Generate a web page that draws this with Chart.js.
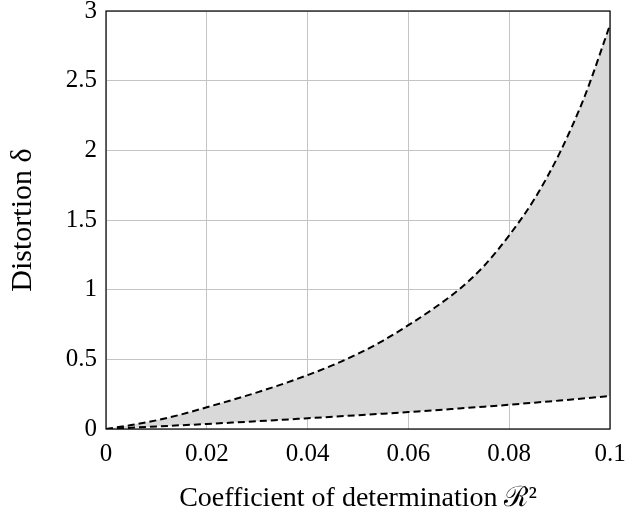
<!DOCTYPE html>
<html lang="en">
<head>
    <meta charset="UTF-8">
    <title>Distortion vs R2</title>
    <script src="https://cdn.jsdelivr.net/npm/chart.js"></script>
    <style>
        body { margin: 0; background: #fff; }
        #wrap { width: 629px; height: 517px; }
    </style>
</head>
<body>
    <div id="wrap"><canvas id="myChart" width="629" height="517"></canvas></div>
    <script>
        // values
        const xValues = [0, 0.005, 0.01, 0.015, 0.02, 0.025, 0.03, 0.035, 0.04, 0.045, 0.05, 0.055, 0.06, 0.065, 0.07, 0.075, 0.08, 0.085, 0.09, 0.095, 0.1];
        const upperValues = [0, 0.028, 0.062, 0.105, 0.156, 0.208, 0.263, 0.322, 0.387, 0.458, 0.54, 0.635, 0.745, 0.865, 1.0, 1.17, 1.39, 1.65, 1.98, 2.39, 2.9];
        const lowerValues = [0, 0.009, 0.018, 0.027, 0.036, 0.046, 0.056, 0.066, 0.077, 0.088, 0.099, 0.110, 0.122, 0.134, 0.147, 0.160, 0.174, 0.189, 0.204, 0.220, 0.237];
        const xTicks = [0, 0.02, 0.04, 0.06, 0.08, 0.1];
        const yTicks = [0, 0.5, 1, 1.5, 2, 2.5, 3];

        const serif = "'Liberation Serif', 'DejaVu Serif', serif";

        const frame = {
            id: 'frame',
            afterDraw(chart) {
                const a = chart.chartArea;
                const c = chart.ctx;
                c.save();
                c.strokeStyle = '#000';
                c.lineWidth = 1.2;
                c.strokeRect(a.left, a.top, a.right - a.left, a.bottom - a.top);
                c.restore();
            }
        };

        // fixed plot box: no extra room for tick label overflow
        function fixX(s) {
            s.height = 88;
            s.paddingLeft = 0;
            s.paddingRight = 0;
        }
        function fixY(s) {
            s.width = 106;
            s.paddingTop = 0;
            s.paddingBottom = 0;
        }

        const ctx = document.getElementById('myChart').getContext('2d');
        const myChart = new Chart(ctx, {
            type: 'line',
            data: {
                datasets: [{
                    label: 'upper',
                    data: xValues.map((x, i) => ({ x: x, y: upperValues[i] })),
                    borderColor: '#000',
                    borderWidth: 2,
                    borderDash: [7, 4],
                    backgroundColor: '#d9d9d9',
                    fill: '+1',
                    pointRadius: 0,
                    cubicInterpolationMode: 'monotone'
                }, {
                    label: 'lower',
                    data: xValues.map((x, i) => ({ x: x, y: lowerValues[i] })),
                    borderColor: '#000',
                    borderWidth: 2,
                    borderDash: [7, 4],
                    fill: false,
                    pointRadius: 0,
                    cubicInterpolationMode: 'monotone'
                }]
            },
            options: {
                responsive: false,
                animation: false,
                layout: { padding: { top: 11, right: 19, left: 0, bottom: 0 } },
                plugins: {
                    legend: { display: false },
                    tooltip: { enabled: false },
                    filler: { drawTime: 'beforeDatasetsDraw' }
                },
                scales: {
                    x: {
                        type: 'linear',
                        min: 0,
                        max: 0.1,
                        afterBuildTicks: (s) => { s.ticks = xTicks.map(v => ({ value: v })); },
                        afterFit: fixX,
                        ticks: {
                            color: '#000',
                            font: { family: serif, size: 25 },
                            padding: 10,
                            maxRotation: 0,
                            callback: (v) => String(v)
                        },
                        grid: { color: '#c4c4c4', lineWidth: 1, drawTicks: false },
                        border: { display: false },
                        title: {
                            display: true,
                            text: 'Coefficient of determination \u211B\u00B2',
                            color: '#000',
                            font: { family: serif, size: 28 },
                            padding: { top: 4, bottom: 2 }
                        }
                    },
                    y: {
                        type: 'linear',
                        min: 0,
                        max: 3,
                        afterBuildTicks: (s) => { s.ticks = yTicks.map(v => ({ value: v })); },
                        afterFit: fixY,
                        ticks: {
                            color: '#000',
                            font: { family: serif, size: 25 },
                            padding: 9,
                            callback: (v) => String(v)
                        },
                        grid: { color: '#c4c4c4', lineWidth: 1, drawTicks: false },
                        border: { display: false },
                        title: {
                            display: true,
                            text: 'Distortion \u03B4',
                            color: '#000',
                            font: { family: serif, size: 30 },
                            padding: { top: 5, bottom: 0 }
                        }
                    }
                }
            },
            plugins: [frame]
        });
    </script>
</body>
</html>
